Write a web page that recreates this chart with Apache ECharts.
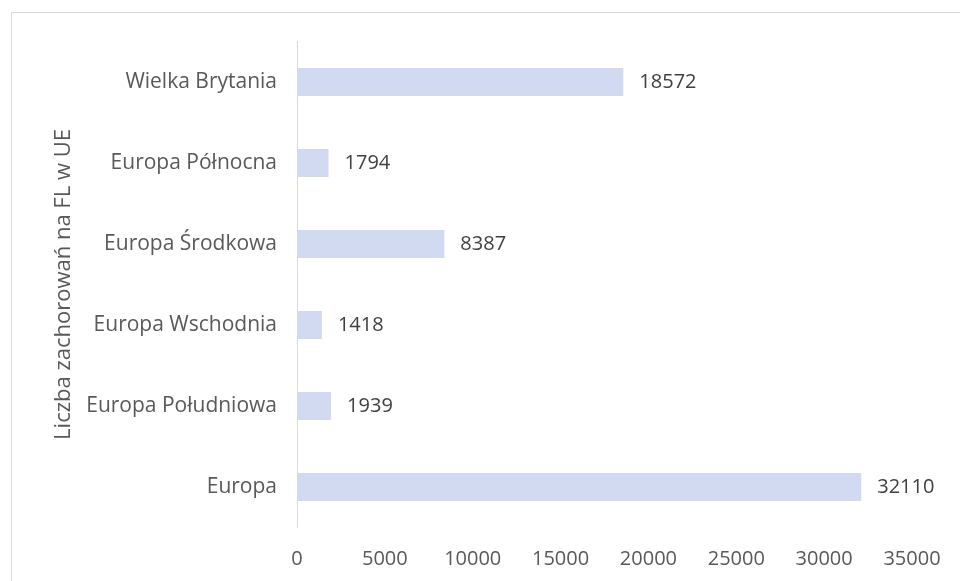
<!DOCTYPE html>
<html><head><meta charset="utf-8">
<script src="https://cdn.jsdelivr.net/npm/echarts@6/dist/echarts.min.js"></script>
<style>html,body{margin:0;padding:0;background:#fff}#c{width:960px;height:581px}</style>
</head><body><div id="c"></div>
<script>
const categories = ['Europa', 'Europa Południowa', 'Europa Wschodnia', 'Europa Środkowa', 'Europa Północna', 'Wielka Brytania'];
const values = [32110, 1939, 1418, 8387, 1794, 18572];
const xTicks = [0, 5000, 10000, 15000, 20000, 25000, 30000, 35000];
const axisName = 'Liczba zachorowań na FL w UE';

const chart = echarts.init(document.getElementById('c'));
const font = 'Open Sans';
chart.setOption({
  animation: false,
  graphic: [{type: 'rect', shape: {x: 11.5, y: 12.5, width: 1000, height: 1000}, style: {fill: 'none', stroke: '#d9d9d9', lineWidth: 1}, z: -1}],
  grid: {left: 297, right: 48, top: 41.5, bottom: 53.5, containLabel: false},
  xAxis: {
    type: 'value', min: xTicks[0], max: xTicks[xTicks.length - 1], interval: 5000,
    axisLine: {show: false}, axisTick: {show: false}, splitLine: {show: false},
    axisLabel: {color: '#595959', fontSize: 20, fontFamily: font, margin: 22, formatter: v => String(v)}
  },
  yAxis: {
    type: 'category', data: categories,
    name: axisName, nameLocation: 'middle', nameRotate: 90, nameGap: 222,
    nameTextStyle: {color: '#595959', fontSize: 22, fontFamily: font},
    axisLine: {show: true, lineStyle: {color: '#d9d9d9', width: 1}},
    axisTick: {show: false},
    axisLabel: {color: '#595959', fontSize: 21, fontFamily: font, margin: 20}
  },
  series: [{
    type: 'bar', data: values, barWidth: 28,
    itemStyle: {color: '#d2daf2'},
    label: {show: true, position: 'right', distance: 16, color: '#404040', fontSize: 20, fontFamily: font}
  }]
});
</script></body></html>
